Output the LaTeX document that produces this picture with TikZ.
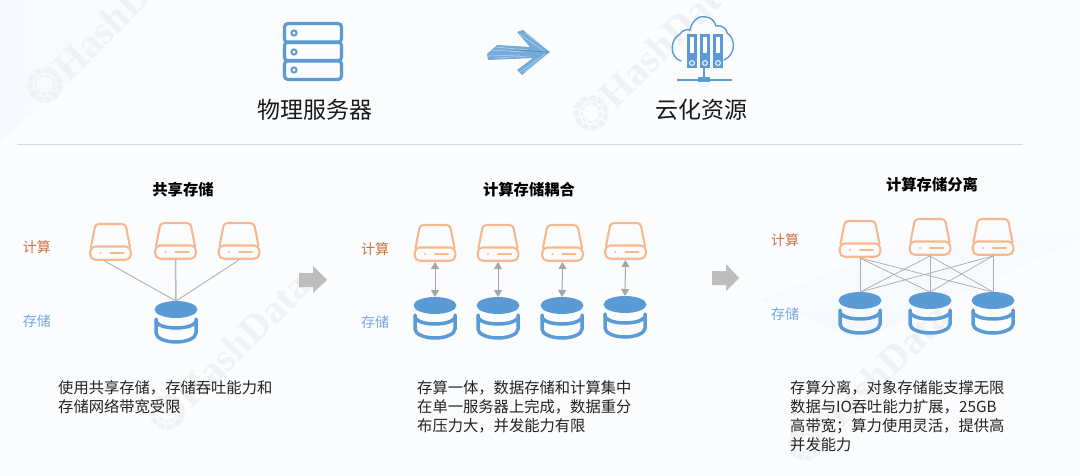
\documentclass[tikz,border=0pt]{standalone}
\usepackage{fontspec}
\usetikzlibrary{arrows.meta}
\setmainfont{Noto Sans CJK SC}
\newfontfamily\wmfont{Liberation Serif}
\definecolor{bgc}{HTML}{FBFCFE}
\definecolor{bgb}{HTML}{F5F8FD}
\definecolor{wmc}{HTML}{F0F1F3}
\definecolor{hddc}{HTML}{F6B88C}
\definecolor{dbc}{HTML}{5B9BD5}
\definecolor{compc}{HTML}{D0703C}
\definecolor{storc}{HTML}{74A7DE}
\definecolor{grayblk}{HTML}{BDBDBD}
\definecolor{txt}{HTML}{222222}
\tikzset{
  x=1pt,y=-1pt,
  unitbox/.style={minimum width=42pt,minimum height=38pt,inner sep=0pt,outer sep=0pt},
  dbbox/.style={minimum width=43pt,minimum height=42pt,inner sep=0pt,outer sep=0pt},
  hddline/.style={draw=hddc,line width=2.1pt,line join=round,line cap=round},
  dbline/.style={draw=dbc,line width=3.5pt,line cap=round},
  thinlink/.style={draw=black!30,line width=0.9pt},
  midlink/.style={draw=black!27,line width=1.5pt},
  dbllink/.style={draw=black!35,line width=1pt,{Triangle[width=8pt,length=7pt]}-{Triangle[width=8pt,length=7pt]}},
  title/.style={font=\fontsize{15.3}{18}\selectfont\bfseries,text=black},
  head/.style={font=\fontsize{23}{28}\selectfont,text=black!90},
  tagc/.style={font=\fontsize{14}{17}\selectfont,text=compc},
  tags/.style={font=\fontsize{14}{17}\selectfont,text=storc},
  para/.style={font=\fontsize{15.3}{19.1}\selectfont,text=txt,align=left,anchor=north west,inner sep=0pt},
  blockarrow/.style={fill=grayblk,draw=none},
  wmtext/.style={font=\wmfont\fontsize{40}{44}\selectfont\bfseries,text=wmc,rotate=45,anchor=west,inner sep=0pt},
  iconblue/.style={draw=dbc,line width=3.2pt,rounded corners=3.5pt},
}
\newcommand{\hddicon}[3]{%
  \node[unitbox] (#1) at (#2,#3+19) {};
  \begin{scope}[shift={(#2,#3)}]
    \draw[hddline,rounded corners=3.5pt] (-19.5,24) -- (-15,1) -- (15,1) -- (19.5,24);
    \draw[hddline,rounded corners=5pt] (-20.3,23.5) rectangle (20.3,36.7);
    \fill[hddc] (-10,30) circle (1.2);
    \draw[hddline] (0,30) -- (13,30);
  \end{scope}}
\newcommand{\dbicon}[3]{%
  \node[dbbox] (#1) at (#2,#3+21) {};
  \begin{scope}[shift={(#2,#3)}]
    \fill[dbc] (0,8.5) ellipse [x radius=21.5,y radius=8.5];
    \draw[dbline] (-20,18) -- (-20,32) .. controls (-20,37) and (-11,41) .. (0,41) .. controls (11,41) and (20,37) .. (20,32) -- (20,18);
    \draw[dbline] (-20,21) .. controls (-17,25) and (-9,27) .. (0,27) .. controls (9,27) and (17,25) .. (20,21);
  \end{scope}}
\newcommand{\wmark}[2]{%
  \draw[wmc,line width=5.5pt,dash pattern=on 7pt off 1.6pt] (#1,#2) circle (15);
  \draw[wmc,line width=2.5pt,dash pattern=on 5pt off 1.5pt] (#1,#2) circle (9.5);
  \node[wmtext] at (#1+15,#2-12) {HashData};}
\newcommand{\binder}[1]{%
  \fill[dbc] (#1,34) rectangle (#1+10,68);
  \fill[white] (#1+3.2,37) rectangle (#1+6.8,53);
  \draw[white,line width=1pt] (#1+5,63) circle (2.4);}
\begin{document}
\begin{tikzpicture}
\useasboundingbox (0,0) rectangle (1080,476);
\begin{scope}
\clip (0,0) rectangle (1080,476);
\fill[bgc] (0,0) rectangle (1080,476);
\shade[left color=bgb,right color=bgc] (0,0) -- (170,0) -- (0,140) -- cycle;
\shade[bottom color=bgb,top color=bgc] (760,300) -- (1080,170) -- (1080,240) -- (860,340) -- cycle;
\wmark{45}{85}
\wmark{591}{113}
\wmark{167}{412}
\wmark{806}{443}
\end{scope}

% top row
\node[head] (phys) at (315,110) {物理服务器};
\node[head] (cloud) at (701,110) {云化资源};
\draw[draw=black!15,line width=1pt] (17,145) -- (1023,145);

% server icon
\foreach \yy/\cy in {23.5/33, 42/52, 60.5/70}{
  \draw[iconblue] (284.5,\yy) rectangle (341.5,\yy+19);
  \draw[dbc,line width=1.9pt] (294,\cy) circle (2.6);
}

% sketch arrow
\fill[dbc!85] (487,54) -- (497,45) -- (530,47) -- (517,32) -- (523,30) -- (550,52) -- (522,75) -- (517,70) -- (533,58) -- (488,60) -- cycle;
\foreach \a/\b/\c/\d in {490/50/525/52, 488/56/520/55, 495/47/528/50, 495/58/530/56}{
  \draw[white,line width=0.6pt,opacity=0.45] (\a,\b) -- (\c,\d);}
\foreach \a/\b/\c/\d in {520/34/545/52, 525/33/548/50, 520/72/545/54, 524/72/548/54}{
  \draw[white,line width=0.6pt,opacity=0.45] (\a,\b) -- (\c,\d);}
\draw[dbc!70!black,line width=0.8pt,opacity=0.5] (515,50) -- (549,52);

% cloud icon
\draw[dbc,line width=1.4pt,line cap=round] (681,61) .. controls (670,58) and (669,40) .. (680,34) .. controls (682,30) and (688,29) .. (690,30) .. controls (692,19) and (701,15) .. (706,17) .. controls (711,17) and (715,22) .. (716,26) .. controls (724,25) and (727,30) .. (727,33) .. controls (736,38) and (736,55) .. (724,60);
\binder{687}\binder{700}\binder{713}
\draw[dbc,line width=1.8pt] (704,68) -- (704,80);
\fill[dbc] (698,77) rectangle (710,82);
\draw[dbc,line width=1.8pt] (677,80) -- (732,80);

% panel titles
\node[title] (t1) at (183,190) {共享存储};
\node[title] (t2) at (529,190) {计算存储耦合};
\node[title] (t3) at (932,185) {计算存储分离};

\node[tagc] (l1a) at (37,247) {计算};
\node[tags] (l1b) at (37,321) {存储};
\node[tagc] (l2a) at (375,249) {计算};
\node[tags] (l2b) at (375,322) {存储};
\node[tagc] (l3a) at (785,240) {计算};
\node[tags] (l3b) at (785,314) {存储};

% panel 1
\hddicon{a1}{110.5}{223}\hddicon{a2}{175.5}{222}\hddicon{a3}{239}{222}
\dbicon{as}{176}{301}
\draw[thinlink] ([xshift=-6pt]a1.south) -- (as.north);
\draw[midlink] (a2.south) -- (as.north);
\draw[thinlink] (a3.south) -- (as.north);

% panel 2
\hddicon{b1}{435}{224}\hddicon{b2}{498}{224}\hddicon{b3}{562.5}{224}\hddicon{b4}{625.5}{222}
\dbicon{d1}{435}{297}\dbicon{d2}{498}{297}\dbicon{d3}{562}{297}\dbicon{d4}{625}{296}
\draw[dbllink] (b1.south) -- (d1.north);
\draw[dbllink] (b2.south) -- (d2.north);
\draw[dbllink] (b3.south) -- (d3.north);
\draw[dbllink] (b4.south) -- (d4.north);

% panel 3
\hddicon{c1}{860}{220}\hddicon{c2}{930}{218}\hddicon{c3}{993}{218}
\dbicon{e1}{860}{292}\dbicon{e2}{930}{292}\dbicon{e3}{993}{292}
\foreach \u in {c1,c2,c3}{\foreach \v in {e1,e2,e3}{
  \draw[draw=black!32,line width=0.75pt] (\u.south) -- (\v.north);}}

% block arrows
\fill[blockarrow] (299,273) -- (313,273) -- (313,266) -- (327,280) -- (313,293) -- (313,287) -- (299,287) -- cycle;
\fill[blockarrow] (712,271) -- (726,271) -- (726,264) -- (739,278) -- (726,291) -- (726,285) -- (712,285) -- cycle;

% paragraphs
\node[para] (p1) at (58,380) {使用共享存储，存储吞吐能力和\\存储网络带宽受限};
\node[para] (p2) at (417,380) {存算一体，数据存储和计算集中\\在单一服务器上完成，数据重分\\布压力大，并发能力有限};
\node[para] (p3) at (790,380) {存算分离，对象存储能支撑无限\\数据与IO吞吐能力扩展，25GB\\高带宽；算力使用灵活，提供高\\并发能力};
\end{tikzpicture}
\end{document}
